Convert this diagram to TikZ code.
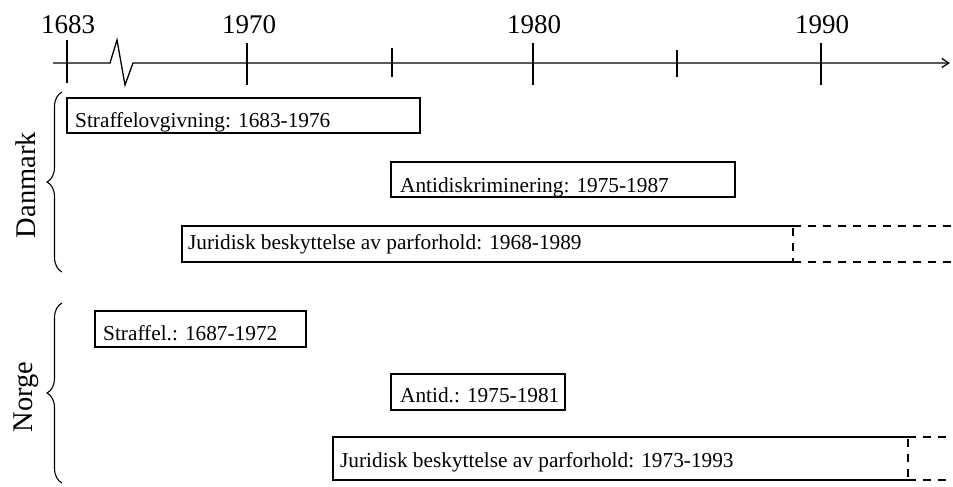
\documentclass[tikz,border=0pt]{standalone}
\usepackage{fontspec}
\setmainfont{Liberation Serif}
\usetikzlibrary{decorations.pathreplacing,arrows.meta}
\begin{document}
\begin{tikzpicture}[x=1pt,y=-1pt,
  axisline/.style={line width=1.3pt},
  tickline/.style={line width=1.5pt},
  boxline/.style={line width=1.6pt},
  dashline/.style={line width=1.6pt,dash pattern=on 8pt off 7pt},
  yearlab/.style={font=\fontsize{27}{32}\selectfont, anchor=base, inner sep=0pt},
  boxlab/.style={font=\fontsize{21.3}{25}\selectfont, anchor=base west, inner sep=0pt},
  countrylab/.style={font=\fontsize{28.5}{33}\selectfont, rotate=90, inner sep=0pt},
  bracestyle/.style={line width=1.1pt, decorate, decoration={brace, amplitude=15pt, raise=0pt}}
]
\useasboundingbox (0,0) rectangle (953,487);
% axis
\coordinate (a0) at (53,63);
\coordinate (z1) at (110,63);
\coordinate (z2) at (117,40);
\coordinate (z3) at (125,85);
\coordinate (z4) at (133,63);
\coordinate (aend) at (950,63);
\draw[axisline,-{Straight Barb[length=7pt,width=9pt]}] (a0) -- (z1) -- (z2) -- (z3) -- (z4) -- (aend);
% ticks
\coordinate (t1683a) at (67,40);  \coordinate (t1683b) at (67,83);
\coordinate (t1970a) at (247,43); \coordinate (t1970b) at (247,85);
\coordinate (t1975a) at (392,48); \coordinate (t1975b) at (392,77);
\coordinate (t1980a) at (533,43); \coordinate (t1980b) at (533,85);
\coordinate (t1985a) at (677,50); \coordinate (t1985b) at (677,77);
\coordinate (t1990a) at (821,43); \coordinate (t1990b) at (821,85);
\draw[tickline] (t1683a) -- (t1683b);
\draw[tickline] (t1970a) -- (t1970b);
\draw[tickline] (t1975a) -- (t1975b);
\draw[tickline] (t1980a) -- (t1980b);
\draw[tickline] (t1985a) -- (t1985b);
\draw[tickline] (t1990a) -- (t1990b);
\node[yearlab] (y1683) at (68,34) {1683};
\node[yearlab] (y1970) at (249,34) {1970};
\node[yearlab] (y1980) at (534,34) {1980};
\node[yearlab] (y1990) at (822,34) {1990};
% braces and country labels
\coordinate (bd1) at (62,272); \coordinate (bd2) at (62,92);
\draw[bracestyle] (bd1) -- (bd2);
\node[countrylab] (dk) at (26,185) {Danmark};
\coordinate (bn1) at (62,483); \coordinate (bn2) at (62,303);
\draw[bracestyle] (bn1) -- (bn2);
\node[countrylab] (no) at (26,397) {Norge};
% Danmark boxes
\draw[boxline] (67,98) rectangle (420,133);
\node[boxlab] (dk1) at (75,127) {Straffelovgivning: 1683-1976};
\draw[boxline] (391,162) rectangle (735,197);
\node[boxlab] (dk2) at (400,192) {Antidiskriminering: 1975-1987};
\draw[boxline] (793,226) -- (182,226) -- (182,262) -- (793,262);
\draw[dashline] (793,226) -- (953,226);
\draw[dashline] (793,262) -- (953,262);
\draw[dashline] (793,228) -- (793,262);
\node[boxlab] (dk3) at (188,249) {Juridisk beskyttelse av parforhold: 1968-1989};
% Norge boxes
\draw[boxline] (95,311) rectangle (306,347);
\node[boxlab] (no1) at (103,340) {Straffel.: 1687-1972};
\draw[boxline] (391,374) rectangle (565,410);
\node[boxlab] (no2) at (400,402) {Antid.: 1975-1981};
\draw[boxline] (908,437) -- (333,437) -- (333,480) -- (908,480);
\draw[dashline] (908,437) -- (953,437);
\draw[dashline] (908,480) -- (953,480);
\draw[dashline] (908,439) -- (908,480);
\node[boxlab] (no3) at (340,467) {Juridisk beskyttelse av parforhold: 1973-1993};
\end{tikzpicture}
\end{document}
